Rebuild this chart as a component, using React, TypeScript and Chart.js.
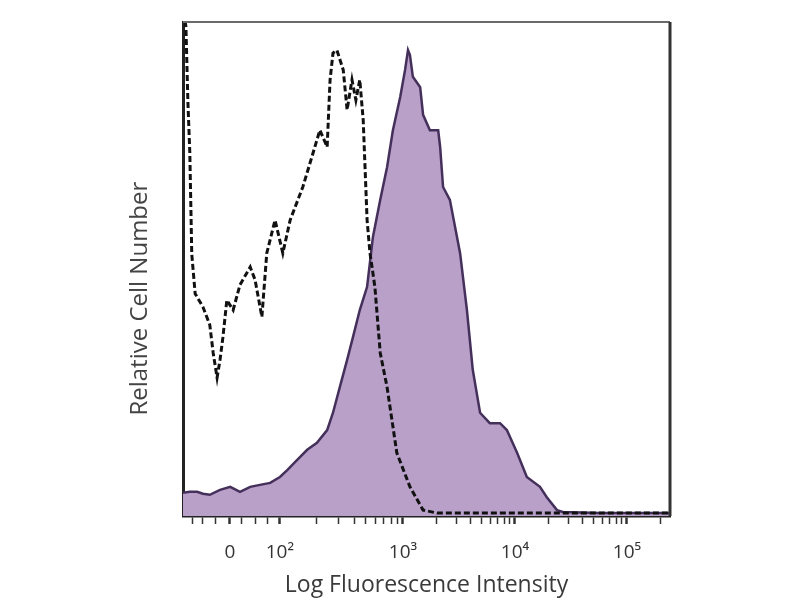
import React, { useEffect, useRef } from "react";
import { Chart, registerables } from "chart.js";

Chart.register(...registerables);

// Channel units 0..1000 along the x axis (biexponential display scale)
const decadeTickValues = [96.5, 199, 451.7, 681.7, 911.7];
const decadeTickLabels = ["0", "10²", "10³", "10⁴", "10⁵"];
const linearMinorTicks = [20, 41, 66, 121, 148, 173];
const logMinorMultipliers = [2, 3, 4, 5, 6, 7, 8, 9];

// Stained sample (filled purple histogram), % of max
const stainedChannel = [0, 14, 29, 41, 55, 76, 97, 109, 117, 138, 158, 179, 199, 214, 234, 255, 275, 296, 308, 322, 337, 349, 363, 378, 390, 405, 419, 431, 446, 456, 462, 466, 472, 487, 493, 507, 524, 528, 534, 548, 569, 583, 595, 610, 630, 651, 665, 686, 706, 733, 747, 768, 780, 856, 1000];
const stainedCount = [4.7, 4.9, 4.9, 4.5, 4.3, 5.3, 5.9, 5.3, 4.9, 5.9, 6.3, 6.7, 7.9, 9.3, 11.3, 13.4, 14.8, 17.4, 20.9, 26.1, 31.6, 36.2, 41.7, 46.4, 56.5, 64, 70.6, 78.1, 84.8, 90.3, 94.3, 93.3, 88.9, 86.8, 81.2, 78.1, 78.1, 74.7, 66.6, 64, 53.2, 41.7, 29.6, 20.9, 18.8, 18.8, 17.4, 12.8, 7.9, 5.9, 3.8, 1.2, 0.8, 0.6, 0.6];

// Isotype control (dashed histogram), % of max
const isotypeChannel = [2, 6, 10, 14, 18, 25, 41, 55, 62, 70, 76, 82, 90, 103, 117, 138, 148, 162, 172, 189, 205, 220, 246, 261, 281, 296, 302, 308, 316, 329, 337, 347, 355, 363, 370, 378, 384, 394, 405, 419, 439, 466, 493, 522, 1000];
const isotypeCount = [102, 99, 84, 73.5, 53, 45, 42.3, 38.7, 33, 28, 31.6, 36.2, 43.7, 41.7, 46.8, 50.4, 47.8, 40.3, 53.2, 59.9, 53.2, 59.9, 66.6, 71.5, 78.1, 74.7, 88.3, 93.7, 94.3, 90.3, 82.2, 88.3, 84.2, 88.3, 80.2, 59.9, 53.2, 46.4, 33, 26.1, 12.8, 5.9, 1.2, 0.6, 0.6];

const xAxisTitle = "Log Fluorescence Intensity";
const yAxisTitle = "Relative Cell Number";

const FONT = "'Open Sans', 'DejaVu Sans', sans-serif";

function buildTicks() {
  const all: { value: number; major: boolean }[] = [];
  decadeTickValues.forEach((v) => all.push({ value: v, major: true }));
  linearMinorTicks.forEach((v) => all.push({ value: v, major: false }));
  for (let d = 1; d < decadeTickValues.length; d++) {
    const start = decadeTickValues[d];
    const next = d + 1 < decadeTickValues.length ? decadeTickValues[d + 1] : start + (start - decadeTickValues[d - 1]);
    logMinorMultipliers.forEach((m) => {
      const v = start + Math.log10(m) * (next - start);
      if (v <= 1000) all.push({ value: v, major: false });
    });
  }
  return all.sort((a, b) => a.value - b.value);
}

const zip = (xs: number[], ys: number[]) => xs.map((x, i) => ({ x, y: ys[i] }));

export default function App() {
  const ref = useRef<HTMLCanvasElement | null>(null);

  useEffect(() => {
    if (!ref.current) return;
    const ticks = buildTicks();

    const framePlugin = {
      id: "frame",
      afterDatasetsDraw(chart: any) {
        const { ctx, chartArea } = chart;
        ctx.save();
        ctx.strokeStyle = "#6a6a6a";
        ctx.lineWidth = 2;
        ctx.beginPath();
        ctx.moveTo(chartArea.left, chartArea.top);
        ctx.lineTo(chartArea.right, chartArea.top);
        ctx.stroke();
        ctx.strokeStyle = "#333";
        ctx.lineWidth = 3;
        ctx.beginPath();
        ctx.moveTo(chartArea.right, chartArea.top);
        ctx.lineTo(chartArea.right, chartArea.bottom);
        ctx.stroke();
        ctx.restore();
      },
    };

    const yTitlePlugin = {
      id: "yTitle",
      afterDraw(chart: any) {
        const { ctx, chartArea } = chart;
        ctx.save();
        ctx.translate(chartArea.left - 43, chartArea.top + (chartArea.bottom - chartArea.top) * 0.56);
        ctx.rotate(-Math.PI / 2);
        ctx.font = `24px ${FONT}`;
        ctx.fillStyle = "#444";
        ctx.textAlign = "center";
        ctx.textBaseline = "middle";
        ctx.fillText(yAxisTitle, 0, 0);
        ctx.restore();
      },
    };

    const chart = new Chart(ref.current, {
      type: "line",
      data: {
        datasets: [
          {
            label: "Isotype control",
            data: zip(isotypeChannel, isotypeCount),
            borderColor: "#111",
            borderWidth: 3,
            borderDash: [6, 3],
            pointRadius: 0,
            fill: false,
            tension: 0,
          },
          {
            label: "Stained",
            data: zip(stainedChannel, stainedCount),
            borderColor: "#45305c",
            backgroundColor: "#b8a0c8",
            borderWidth: 2.5,
            pointRadius: 0,
            fill: "origin",
            tension: 0,
          },
        ],
      },
      options: {
        responsive: false,
        animation: false,
        layout: { padding: { left: 0, right: 130, top: 22, bottom: 0 } },
        plugins: { legend: { display: false }, tooltip: { enabled: false } },
        scales: {
          x: {
            type: "linear",
            min: 0,
            max: 1000,
            afterFit(axis: any) {
              axis.height = 84;
            },
            afterBuildTicks(axis: any) {
              axis.ticks = ticks.map((t) => ({ value: t.value }));
            },
            ticks: {
              autoSkip: false,
              maxRotation: 0,
              padding: 17,
              color: "#333",
              font: { family: FONT, size: 19 },
              callback(value: any) {
                const i = decadeTickValues.indexOf(value as number);
                return i >= 0 ? decadeTickLabels[i] : "";
              },
            },
            grid: {
              display: true,
              drawOnChartArea: false,
              drawTicks: true,
              tickLength: 8,
              tickColor: "#333",
              tickWidth: (ctx: any) => (decadeTickValues.indexOf(ctx.tick?.value) >= 0 ? 2.5 : 1.5),
            },
            border: { display: true, color: "#222", width: 2.5 },
            title: {
              display: true,
              text: xAxisTitle,
              color: "#3a3a3a",
              font: { family: FONT, size: 23 },
              padding: { top: 0, bottom: 1 },
            },
          },
          y: {
            type: "linear",
            min: 0,
            max: 100,
            afterFit(axis: any) {
              axis.width = 183;
            },
            ticks: { display: false },
            grid: { display: false },
            border: { display: true, color: "#222", width: 3 },
          },
        },
      },
      plugins: [framePlugin, yTitlePlugin],
    } as any);

    return () => chart.destroy();
  }, []);

  return (
    <div style={{ position: "absolute", left: 0, top: 0, width: 800, height: 600, background: "#fff" }}>
      <canvas ref={ref} width={800} height={600} style={{ display: "block" }} />
    </div>
  );
}
